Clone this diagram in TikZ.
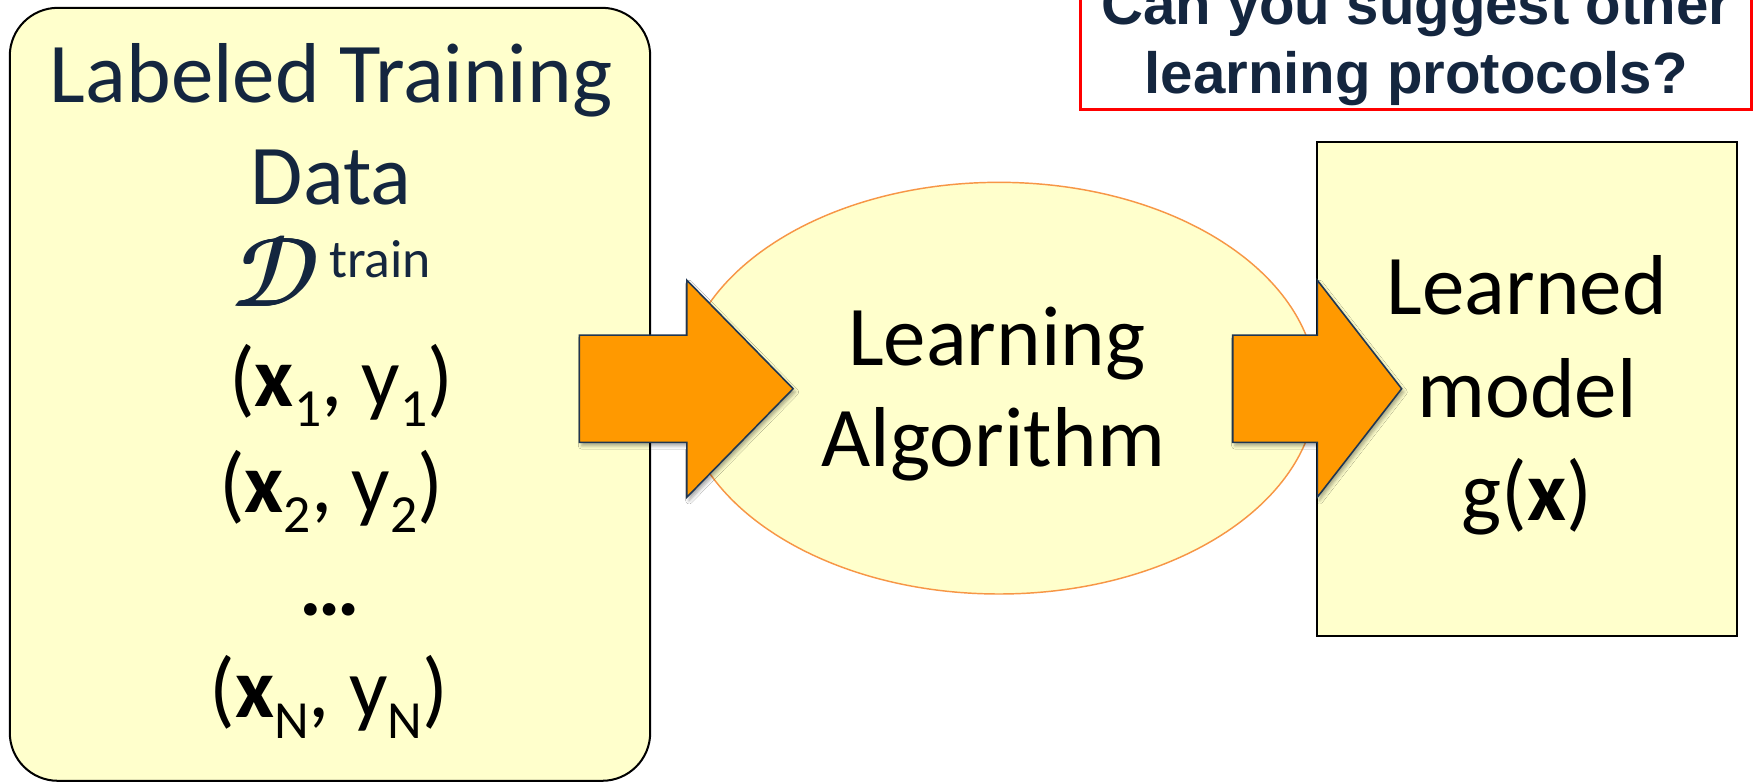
\documentclass[tikz,border=0pt]{standalone}
\usepackage{fontspec}
\usepackage{unicode-math}
\setmainfont{Carlito}
\newfontfamily\notefont{Liberation Sans}
\usetikzlibrary{shapes.geometric,shadows.blur}

\definecolor{titlenavy}{HTML}{14263F}
\definecolor{boxyellow}{HTML}{FFFFCC}
\definecolor{arrowfill}{HTML}{FF9900}
\definecolor{arrowline}{HTML}{1F3652}
\definecolor{ringline}{HTML}{F79646}
\definecolor{notered}{HTML}{FF0000}

\newcommand{\bigtext}{\fontsize{76}{90}\selectfont}
\newcommand{\lowidx}[1]{\raisebox{-18.4pt}{\fontsize{48}{48}\selectfont #1}}
% a heavier script D, set as a few overlapping copies
\newcommand{\heavyD}{{\fontsize{88}{88}\selectfont
  \makebox[0pt][l]{$\mathcal{D}$}\hspace{1pt}%
  \makebox[0pt][l]{$\mathcal{D}$}\hspace{1pt}%
  \makebox[0pt][l]{$\mathcal{D}$}\hspace{1pt}$\mathcal{D}$}}

\tikzset{
  databox/.style={draw=black, line width=1.8pt, fill=boxyellow,
    rounded corners=43pt, inner sep=0pt,
    minimum width=572.5pt, minimum height=691pt},
  modelbox/.style={draw=black, line width=2pt, fill=boxyellow, inner sep=0pt,
    minimum width=375pt, minimum height=442pt},
  algoring/.style={ellipse, draw=ringline, line width=1.3pt, fill=boxyellow,
    inner sep=0pt, minimum width=568pt, minimum height=368pt},
  notebox/.style={draw=notered, line width=2.7pt, fill=white, inner sep=0pt,
    minimum width=600pt, minimum height=140pt},
  txt/.style={font=\bigtext, anchor=base, inner sep=0pt},
  navytxt/.style={txt, text=titlenavy},
  notetxt/.style={font=\notefont\bfseries\fontsize{52}{60}\selectfont,
    text=titlenavy, anchor=base, inner sep=0pt},
  bigarrow/.style={fill=arrowfill, draw=arrowline, line width=1.4pt,
    line join=miter,
    blur shadow={shadow xshift=2pt, shadow yshift=-3pt,
      shadow opacity=35, shadow blur radius=3pt}},
  pics/fatarrow/.style n args={2}{code={
    \path[bigarrow] (0,-48) -- (#1,-48) -- (#1,-97) -- (#2,0)
      -- (#1,97) -- (#1,48) -- (0,48) -- cycle;
  }}
}

\begin{document}
\begin{tikzpicture}[x=1pt, y=-1pt]
\useasboundingbox (0,0) rectangle (1568,699);
\clip (0,0) rectangle (1568,699);
\fill[white] (0,0) rectangle (1568,699);

% question box, cut by the top edge
\node[notebox] (note) at (1266,27.6) {};
\node[notetxt] (q1) at (1266,22) {Can you suggest other};
\node[notetxt] (q2) at (1266,84) {learning protocols?};

% training data
\node[databox] (data) at (295,352.5) {};
\node[navytxt] (d1) at (296,92) {Labeled Training};
\node[navytxt] (d2) at (296,183) {Data};
\node[navytxt] (d3) at (296,274)
  {\heavyD\hspace{8pt}\raisebox{26pt}{\fontsize{48}{48}\selectfont train}};
\node[txt] (p1) at (305,363) {(\textbf{x}\lowidx{1}, y\lowidx{1})};
\node[txt] (p2) at (296,458) {(\textbf{x}\lowidx{2}, y\lowidx{2})};
\node[txt] (p3) at (295,550) {\textbf{…}};
\node[txt] (p4) at (294,641.5) {(\textbf{x}\lowidx{N}, y\lowidx{N})};

% learned model
\node[modelbox] (model) at (1365,347.6) {};
\node[txt] (m1) at (1365,281) {Learned};
\node[txt] (m2) at (1365,373) {model};
\node[txt] (m3) at (1365,465) {g(\textbf{x})};

% learning algorithm
\node[algoring] (algo) at (893,347) {};
\node[txt] (a1) at (891,327) {Learning};
\node[txt] (a2) at (888,417) {Algorithm};

% block arrows between the stages
\coordinate (arrowin) at (518,347.5);
\coordinate (arrowout) at (1102,347.5);
\pic (toalgo) at (arrowin) {fatarrow={96}{191}};
\pic (tomodel) at (arrowout) {fatarrow={75.6}{151}};
\end{tikzpicture}
\end{document}
